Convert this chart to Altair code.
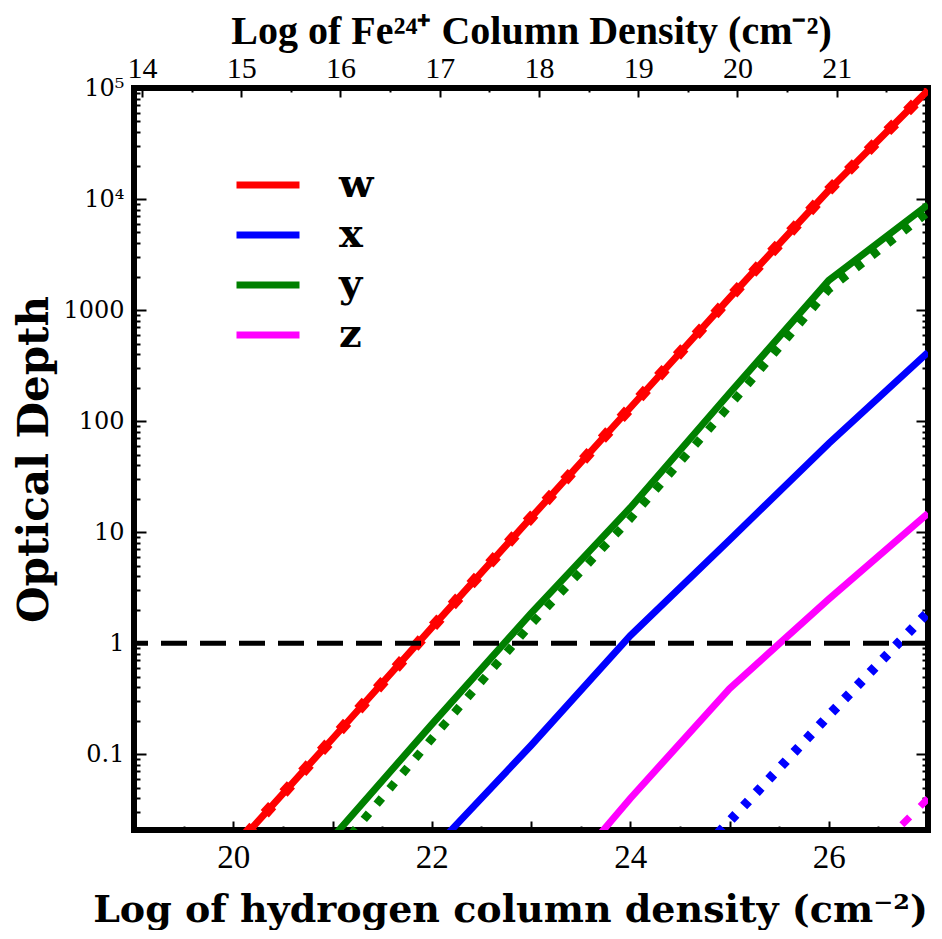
import altair as alt
import pandas as pd

# ---- data ----
series = ["w", "x", "y", "z"]
colors = ["#ff0000", "#0000ff", "#008000", "#ff00ff"]

# solid curves (optical depth vs log N_H)
w_solid_H = [19, 20, 21, 22, 23, 24, 25, 26, 27]
w_solid = [0.00141, 0.0141, 0.138, 1.38, 13.5, 132, 1290, 12000, 95500]
x_solid_H = [21, 22, 23, 24, 25, 26, 27]
x_solid = [0.00141, 0.0135, 0.12, 1.17, 8.5, 63, 417]
y_solid_H = [20, 21, 22, 23, 24, 25, 26, 27]
y_solid = [0.00178, 0.0178, 0.186, 1.86, 16.6, 178, 1850, 8900]
z_solid_H = [23, 24, 25, 26, 27]
z_solid = [0.00355, 0.04, 0.39, 2.5, 14.8]

# dotted curves
w_dot_H = [19, 20, 21, 22, 23, 24, 25, 26, 27]
w_dot = [0.00141, 0.0141, 0.138, 1.38, 13.5, 132, 1290, 12000, 95500]
x_dot_H = [24, 25, 26, 27]
x_dot = [0.0028, 0.025, 0.224, 1.9]
y_dot_H = [20, 21, 22, 23, 24, 25, 26, 27]
y_dot = [0.00112, 0.012, 0.138, 1.48, 13.2, 138, 1540, 7600]
z_dot_H = [26, 27]
z_dot = [0.005, 0.04]

threshold = [1.0]

# axis ticks
FE_OFFSET = 5.08  # log N(Fe24+) = log N_H - FE_OFFSET
h_major = [19, 20, 21, 22, 23, 24, 25, 26, 27]
h_minor = [19.5, 20.5, 21.5, 22.5, 23.5, 24.5, 25.5, 26.5]
fe_major = [14, 15, 16, 17, 18, 19, 20, 21]
fe_minor = [14.5, 15.5, 16.5, 17.5, 18.5, 19.5, 20.5, 21.5]
y_major = [0.1, 1, 10, 100, 1000, 1e4, 1e5]
Y_MIN, Y_MAX = 0.0208, 1e5
y_minor = [m * 10.0 ** k for k in range(-2, 5) for m in range(2, 10)
           if Y_MIN <= m * 10.0 ** k <= Y_MAX]


def frame(hs, vals, name):
    return pd.DataFrame({"H": hs, "tau": vals, "line": name, "style": name})


solid_df = pd.concat([frame(w_solid_H, w_solid, "w"), frame(x_solid_H, x_solid, "x"),
                      frame(y_solid_H, y_solid, "y"), frame(z_solid_H, z_solid, "z")])
dot_df = pd.concat([frame(w_dot_H, w_dot, "w"), frame(x_dot_H, x_dot, "x"),
                    frame(y_dot_H, y_dot, "y"), frame(z_dot_H, z_dot, "z")])
thr_df = pd.DataFrame({"tau": threshold})

xs = alt.Scale(domain=[19, 27], nice=False, zero=False)
ys = alt.Scale(type="log", domain=[Y_MIN, Y_MAX], nice=False)
cs = alt.Scale(domain=series, range=colors)

SERIF = "DejaVu Serif"
TIMES = "Liberation Serif"
common = dict(domain=False, grid=False, tickColor="black", tickWidth=2)

ax_bottom = alt.Axis(orient="bottom", values=h_major, tickSize=9, offset=-9,
                     format="d", labelExpr="datum.value % 2 == 0 ? datum.label : ''",
                     labelFont=TIMES, labelFontSize=33, labelColor="black", labelPadding=11,
                     title="Log of hydrogen column density (cm⁻²)", titleFont=SERIF,
                     titleFontSize=38, titleFontWeight="bold", titleColor="black",
                     titlePadding=17, titleX=376, **common)
ax_bottom_minor = alt.Axis(orient="bottom", values=h_minor, tickSize=4, offset=-4,
                           labels=False, title=None, **common)
ax_top = alt.Axis(orient="top", values=[f + FE_OFFSET for f in fe_major], tickSize=9,
                  offset=-9, labelExpr=f"format(round(datum.value - {FE_OFFSET}), 'd')",
                  labelFont=TIMES, labelFontSize=30, labelColor="black", labelPadding=5,
                  title="Log of Fe²⁴⁺ Column Density (cm⁻²)", titleFont=TIMES,
                  titleFontSize=40, titleFontWeight="bold", titleColor="black",
                  titlePadding=2, **common)
ax_top_minor = alt.Axis(orient="top", values=[f + FE_OFFSET for f in fe_minor], tickSize=4,
                        offset=-4, labels=False, title=None, **common)

ylabel = ("datum.value == 100000 ? '10⁵' : datum.value == 10000 ? '10⁴' : datum.label")
ax_left = alt.Axis(orient="left", values=y_major, tickSize=12, offset=-12, format="~g",
                   labelExpr=ylabel, labelFont=SERIF, labelFontSize=24, labelColor="black",
                   labelPadding=10, title="Optical Depth", titleFont=SERIF, titleFontSize=42,
                   titleFontWeight="bold", titleColor="black", titlePadding=6, **common)
ax_left_minor = alt.Axis(orient="left", values=y_minor, tickSize=6, offset=-6,
                         labels=False, title=None, **common)
ax_right = alt.Axis(orient="right", values=y_major, tickSize=12, offset=-12,
                    labels=False, title=None, **common)
ax_right_minor = alt.Axis(orient="right", values=y_minor, tickSize=6, offset=-6,
                          labels=False, title=None, **common)

legend = alt.Legend(title=None, orient="none", legendX=99, legendY=77, symbolType="stroke",
                    symbolSize=3969, symbolStrokeWidth=7, symbolDash=[1, 0],
                    clipHeight=40, rowPadding=10,
                    labelFont=SERIF, labelFontSize=40, labelFontWeight="bold",
                    labelColor="black", labelOffset=36, padding=0)

solid = alt.Chart(solid_df).mark_line(strokeWidth=7, clip=True).encode(
    x=alt.X("H:Q", scale=xs, axis=ax_bottom),
    y=alt.Y("tau:Q", scale=ys, axis=ax_left),
    color=alt.Color("line:N", scale=cs, legend=legend),
)

dotted = alt.Chart(dot_df).mark_line(clip=True, strokeCap="butt").encode(
    x=alt.X("H:Q", scale=xs, axis=ax_bottom_minor),
    y=alt.Y("tau:Q", scale=ys, axis=ax_left_minor),
    color=alt.Color("style:N", scale=cs, legend=None),
    strokeDash=alt.StrokeDash("style:N", scale=alt.Scale(
        domain=series, range=[[11, 17], [7, 11.4], [8, 12], [11, 15]]), legend=None),
    strokeWidth=alt.StrokeWidth("style:O", scale=alt.Scale(
        domain=series, range=[11, 7, 8, 11]), legend=None),
)

rule = alt.Chart(thr_df).mark_rule(color="black", strokeWidth=5, strokeDash=[26, 13]).encode(
    y=alt.Y("tau:Q", scale=ys, axis=ax_right),
)

ghost1 = alt.Chart(solid_df).mark_point(opacity=0).encode(
    x=alt.X("H:Q", scale=xs, axis=ax_top),
    y=alt.Y("tau:Q", scale=ys, axis=ax_right_minor),
)
ghost2 = alt.Chart(dot_df).mark_point(opacity=0).encode(
    x=alt.X("H:Q", scale=xs, axis=ax_top_minor),
    y=alt.Y("tau:Q", scale=ys, axis=None),
)

chart = alt.layer(solid, dotted, rule, ghost1, ghost2).resolve_axis(
    x="independent", y="independent"
).resolve_scale(
    color="independent", strokeDash="independent", strokeWidth="independent"
).properties(
    width=794, height=742,
    autosize=alt.AutoSizeParams(type="none"),
    padding={"left": 126, "top": 80, "right": 6, "bottom": 100},
    background="white",
).configure_view(stroke="black", strokeWidth=6)

chart.save("out.html", embed_options={"renderer": "svg", "actions": False})
